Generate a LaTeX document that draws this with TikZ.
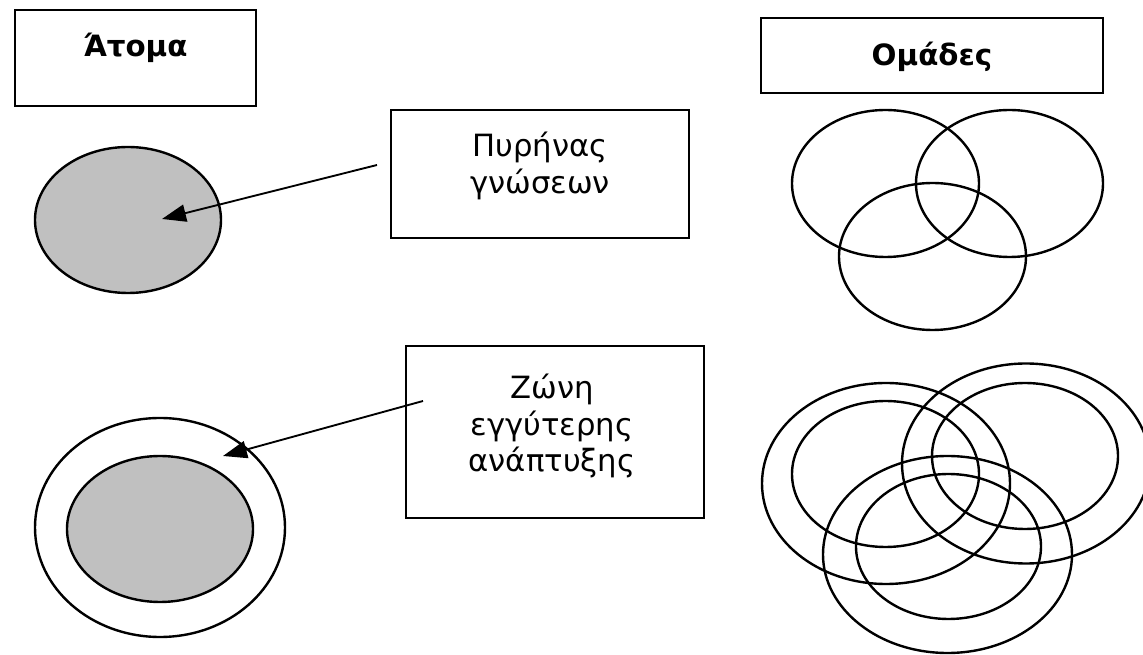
\documentclass[tikz,border=0pt]{standalone}
\usepackage{fontspec}
\setmainfont{DejaVu Sans}
\usetikzlibrary{arrows.meta}
\definecolor{coregray}{RGB}{192,192,192}

\begin{document}
\begin{tikzpicture}[x=0.75pt, y=-0.75pt,
    titlebox/.style={draw, line width=2pt, inner sep=0pt},
    notebox/.style={draw, line width=2pt, inner sep=0pt, minimum width=223.5pt},
    titletext/.style={font=\fontsize{22}{26}\selectfont\bfseries},
    notetext/.style={font=\fontsize{23}{27.5}\selectfont, align=center},
    ring/.style={line width=1.8pt},
    pointer/.style={line width=1.4pt, -{Triangle[length=18pt, width=13pt]}}]
    \useasboundingbox (0, 0) rectangle (1143, 655);

    \node[titlebox, minimum width=180.75pt, minimum height=72pt] (atoma box) at (135.5, 58) {};
    \node[titletext] (atoma) at (135.5, 48) {Άτομα};
    \node[titlebox, minimum width=256.5pt, minimum height=56.25pt] (omades box) at (932, 55.5) {};
    \node[titletext] (omades) at (932, 57) {Ομάδες};

    \node[notebox, minimum height=96pt] (pyrinas box) at (540, 174) {};
    \node[notetext] (pyrinas) at (540, 166) {Πυρήνας\\γνώσεων};
    \node[notebox, minimum height=129pt] (zoni box) at (555, 432) {};
    \node[notetext] (zoni) at (552, 426) {Ζώνη\\εγγύτερης\\ανάπτυξης};

    \filldraw[ring, fill=coregray] (128, 220) ellipse [x radius=93, y radius=73];
    \draw[ring] (160, 527.5) ellipse [x radius=125, y radius=109.5];
    \filldraw[ring, fill=coregray] (160, 529) ellipse [x radius=93, y radius=73];

    \coordinate (pyrinas tail) at (377, 165);
    \coordinate (pyrinas tip) at (162, 219);
    \coordinate (zoni tail) at (423, 401);
    \coordinate (zoni tip) at (223, 456);
    \draw[pointer] (pyrinas tail) -- (pyrinas tip);
    \draw[pointer] (zoni tail) -- (zoni tip);

    \draw[ring] (885.5, 183.5) ellipse [x radius=93.5, y radius=73.5];
    \draw[ring] (1009.5, 183.5) ellipse [x radius=93.5, y radius=73.5];
    \draw[ring] (932.5, 256.5) ellipse [x radius=93.5, y radius=73.5];

    \draw[ring] (886, 483.5) ellipse [x radius=124, y radius=100.5];
    \draw[ring] (885.5, 474) ellipse [x radius=93.5, y radius=73];
    \draw[ring] (1026, 463.5) ellipse [x radius=124, y radius=100];
    \draw[ring] (1025, 456) ellipse [x radius=93, y radius=73];
    \draw[ring] (947.5, 554.5) ellipse [x radius=124.5, y radius=98.5];
    \draw[ring] (948.5, 546.5) ellipse [x radius=92.5, y radius=72.5];
\end{tikzpicture}
\end{document}
